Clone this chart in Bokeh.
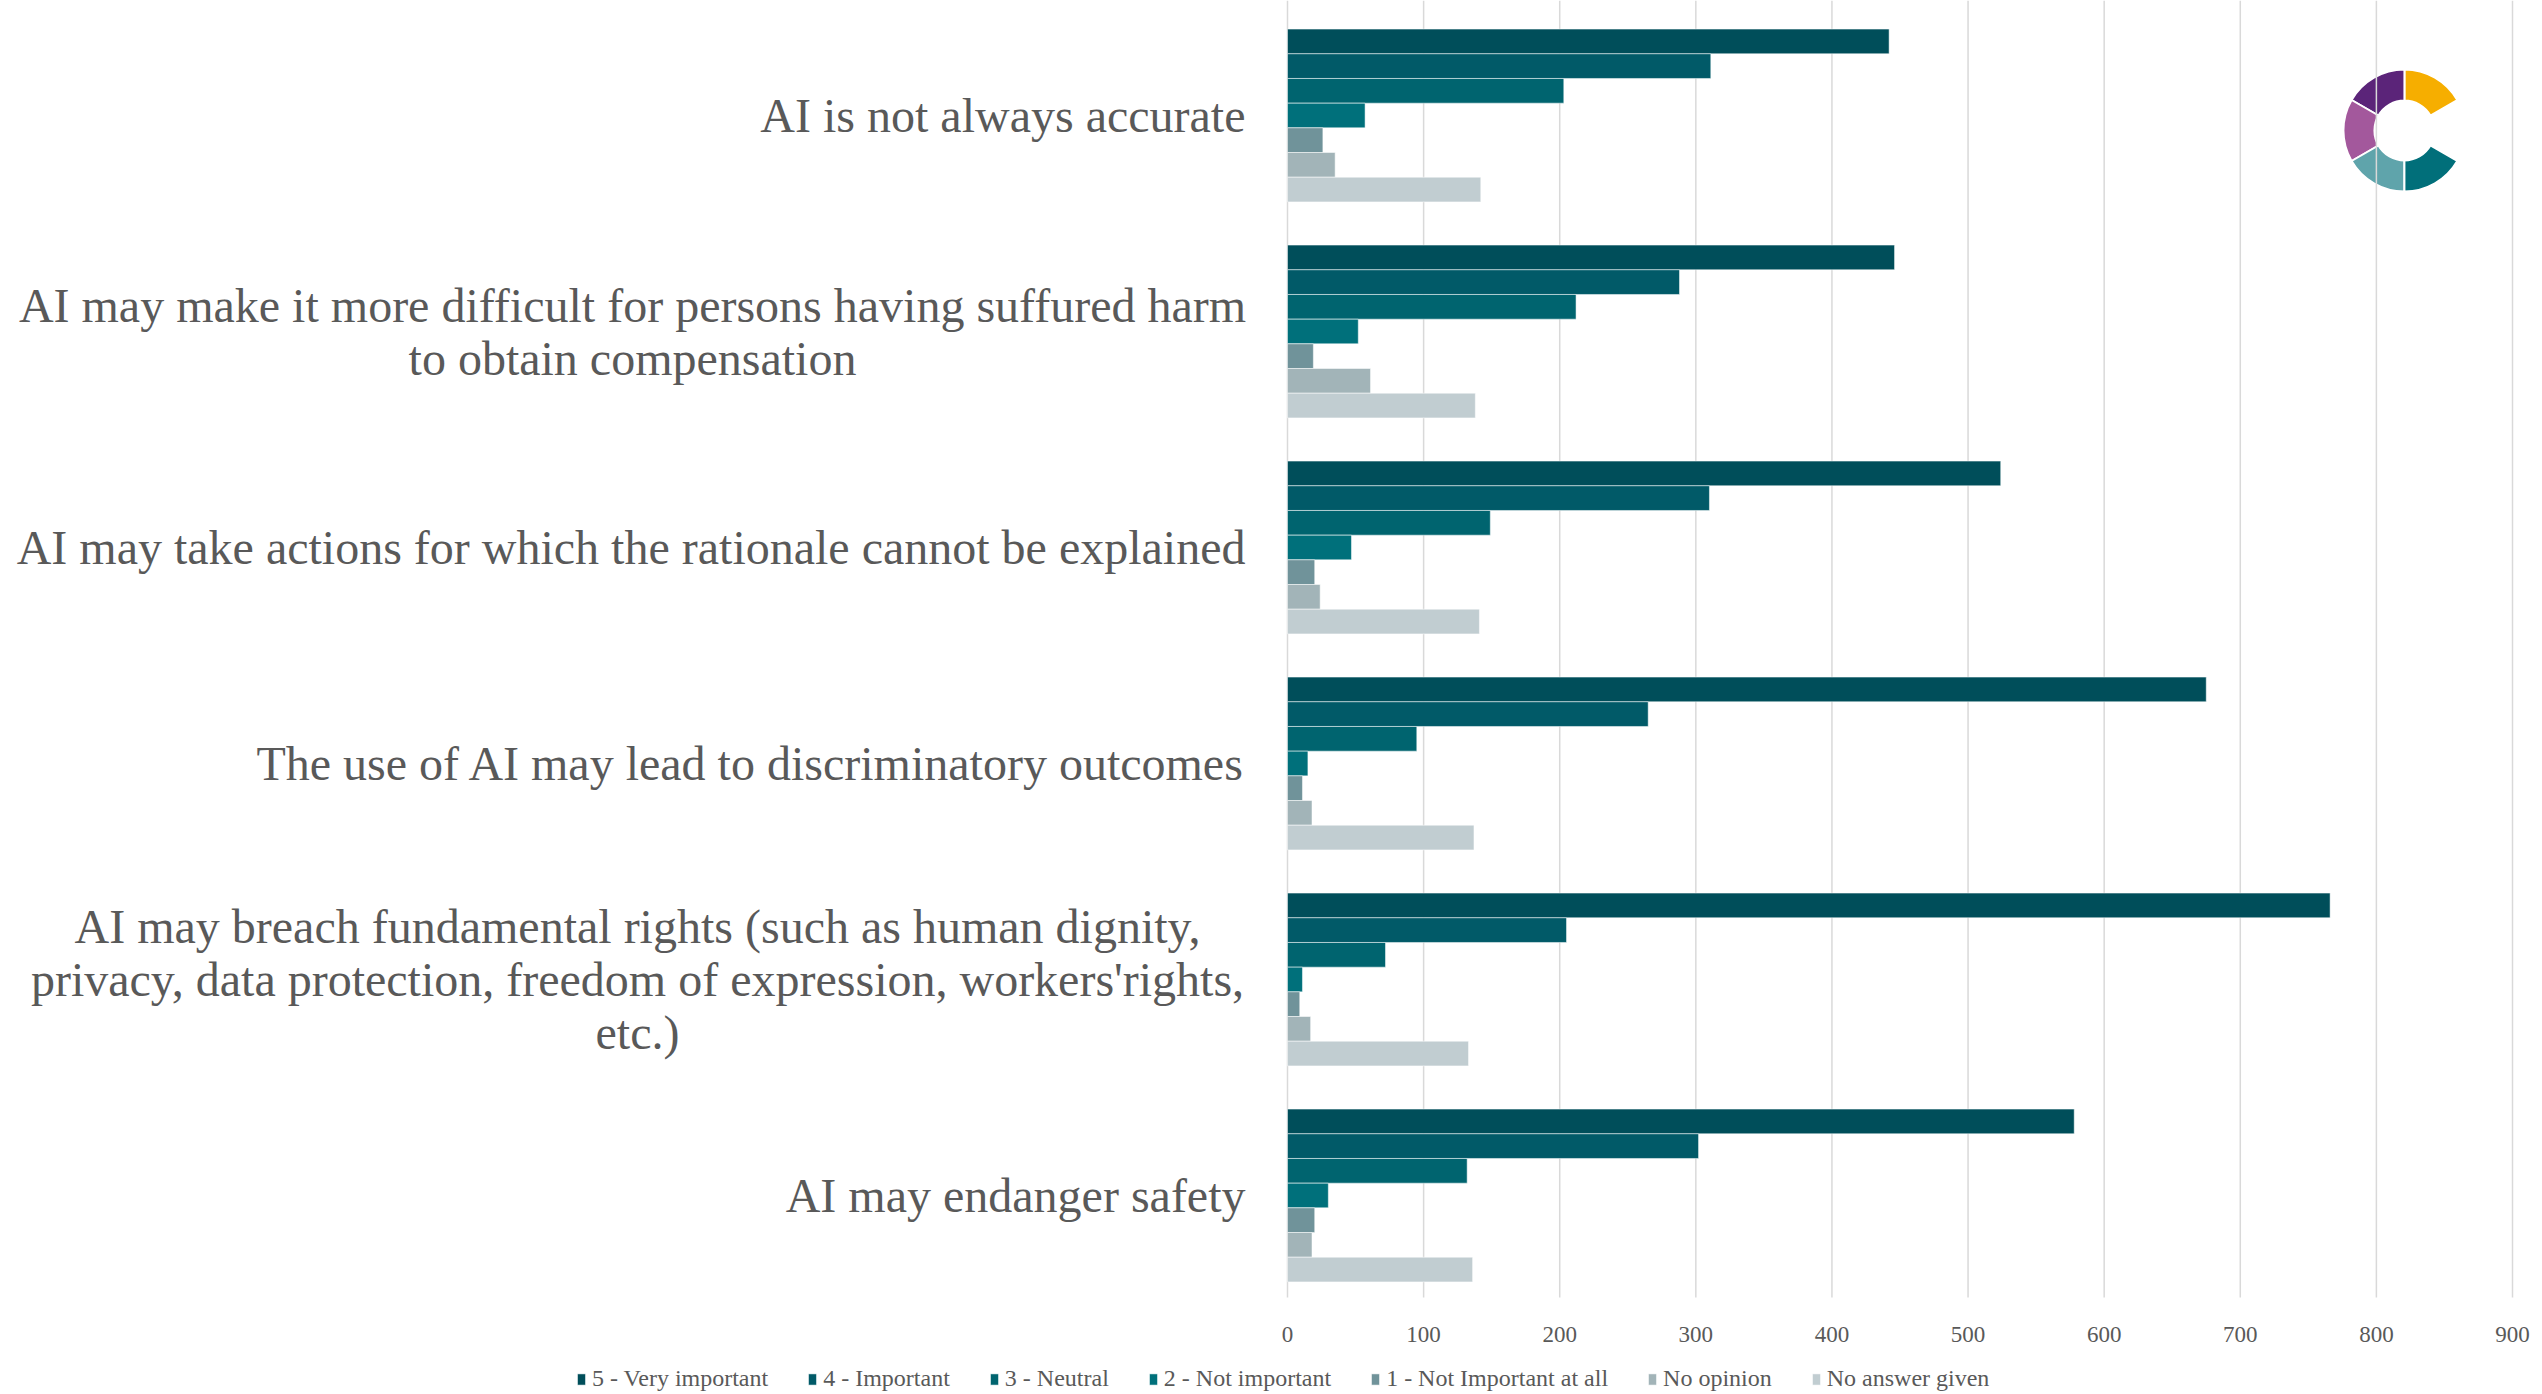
import math
from bokeh.plotting import figure
from bokeh.models import ColumnDataSource, Range1d, Label, Legend, LegendItem, FixedTicker, LinearAxis
from bokeh.embed import file_html
from bokeh.resources import INLINE

# ---------------- data ----------------
categories = [
    "AI is not always accurate",
    "AI may make it more difficult for persons having suffured harm\nto obtain compensation",
    "AI may take actions for which the rationale cannot be explained",
    "The use of AI may lead to discriminatory outcomes",
    "AI may breach fundamental rights (such as human dignity,\nprivacy, data protection, freedom of expression, workers'rights,\netc.)",
    "AI may endanger safety",
]
series_names = [
    "5 - Very important",
    "4 - Important",
    "3 - Neutral",
    "2 - Not important",
    "1 - Not Important at all",
    "No opinion",
    "No answer given",
]
very_important = [442, 446, 524, 675, 766, 578]
important = [311, 288, 310, 265, 205, 302]
neutral = [203, 212, 149, 95, 72, 132]
not_important = [57, 52, 47, 15, 11, 30]
not_important_at_all = [26, 19, 20, 11, 9, 20]
no_opinion = [35, 61, 24, 18, 17, 18]
no_answer_given = [142, 138, 141, 137, 133, 136]
x_ticks = [0, 100, 200, 300, 400, 500, 600, 700, 800, 900]

series_values = [very_important, important, neutral, not_important,
                 not_important_at_all, no_opinion, no_answer_given]
series_colors = ["#004E5A", "#015A68", "#00646F", "#00707B", "#70939A", "#A2B4B8", "#C1CDD1"]

TEXT = "#595959"
FONT = "Liberation Serif"

# ---------------- layout (pixels) ----------------
W, H = 2542, 1394
AXIS_LEFT_PX = 1287      # page x of value 0
AXIS_RIGHT_PX = 2512     # page x of value 900
PLOT_TOP_PX = 7          # top of first category band
PLOT_BOTTOM_PX = 1303    # bottom of last category band
n_cat = len(categories)

px_per_unit = (AXIS_RIGHT_PX - AXIS_LEFT_PX) / (x_ticks[-1] - x_ticks[0])
x_start = -AXIS_LEFT_PX / px_per_unit
x_end = x_ticks[-1] + (W - AXIS_RIGHT_PX) / px_per_unit
band_px = (PLOT_BOTTOM_PX - PLOT_TOP_PX) / n_cat
y_end = n_cat - 0.5 + PLOT_TOP_PX / band_px
y_start = -0.5 - (H - PLOT_BOTTOM_PX) / band_px

p = figure(width=W, height=H,
           x_range=Range1d(x_start, x_end), y_range=Range1d(y_start, y_end),
           output_backend="svg", toolbar_location=None,
           min_border_left=0, min_border_right=0,
           min_border_top=0, min_border_bottom=0,
           x_axis_location=None, y_axis_location=None)
p.outline_line_color = None
p.background_fill_color = "white"
p.border_fill_color = "white"
p.xgrid.visible = False
p.ygrid.visible = False

# vertical grid lines
p.segment(x0=x_ticks, x1=x_ticks, y0=[-0.5 + 6 / band_px] * len(x_ticks),
          y1=[y_end] * len(x_ticks), line_color="#D9D9D9", line_width=1.5,
          level="underlay")

# x axis placed at the bottom of the bar area
xa = LinearAxis(ticker=FixedTicker(ticks=x_ticks), fixed_location=-0.5)
xa.axis_line_color = None
xa.major_tick_line_color = None
xa.minor_tick_line_color = None
xa.major_label_text_font = FONT
xa.major_label_text_font_size = "23px"
xa.major_label_text_color = TEXT
xa.major_label_standoff = 17
p.add_layout(xa, "below")

# logo (decoration), drawn beneath the grid
logo_cols = ["#F6AE00", "#5B2479", "#A3589C", "#5FA4AB", "#016F7A"]
starts = [30, 90, 150, 210, 270]
ends = [90, 150, 210, 270, 330]
p.annular_wedge(x=[820.6] * 5, y=[y_end - 130 / band_px] * 5,
                inner_radius=30, outer_radius=61,
                inner_radius_units="screen", outer_radius_units="screen",
                start_angle=[math.radians(a) for a in starts],
                end_angle=[math.radians(a) for a in ends],
                fill_color=logo_cols, line_color="white", line_width=2,
                level="image")

# bars
group = 0.8
bar_h = group / len(series_names)
items = []
for i, (name, vals, col) in enumerate(zip(series_names, series_values, series_colors)):
    offset = group / 2 - (i + 0.5) * bar_h
    ys = [(n_cat - 1 - k) + offset for k in range(n_cat)]
    src = ColumnDataSource(dict(y=ys, v=vals))
    r = p.hbar(y="y", left=0, right="v", height=bar_h, source=src,
               fill_color=col, line_color="white", line_width=1, line_alpha=0.5)
    items.append(LegendItem(label=name, renderers=[r]))

# category labels
multi_offsets = {1: -655, 4: -650}
for k, cat in enumerate(categories):
    multi = "\n" in cat
    lab = Label(x=0, y=n_cat - 1 - k, x_units="data", y_units="data",
                x_offset=multi_offsets.get(k, -42),
                text=cat, text_align="center" if multi else "right",
                text_baseline="middle", text_font=FONT, text_font_size="48px",
                text_color=TEXT, text_line_height=1.0)
    p.add_layout(lab)

legend = Legend(items=items, orientation="horizontal", location=(576, 2),
                label_text_font=FONT, label_text_font_size="24px",
                label_text_color=TEXT, glyph_width=10, glyph_height=14,
                label_standoff=6, spacing=39, padding=0, margin=0,
                border_line_alpha=0, background_fill_alpha=0)
p.add_layout(legend, "center")

open("out.html", "w").write(file_html(p, INLINE))
